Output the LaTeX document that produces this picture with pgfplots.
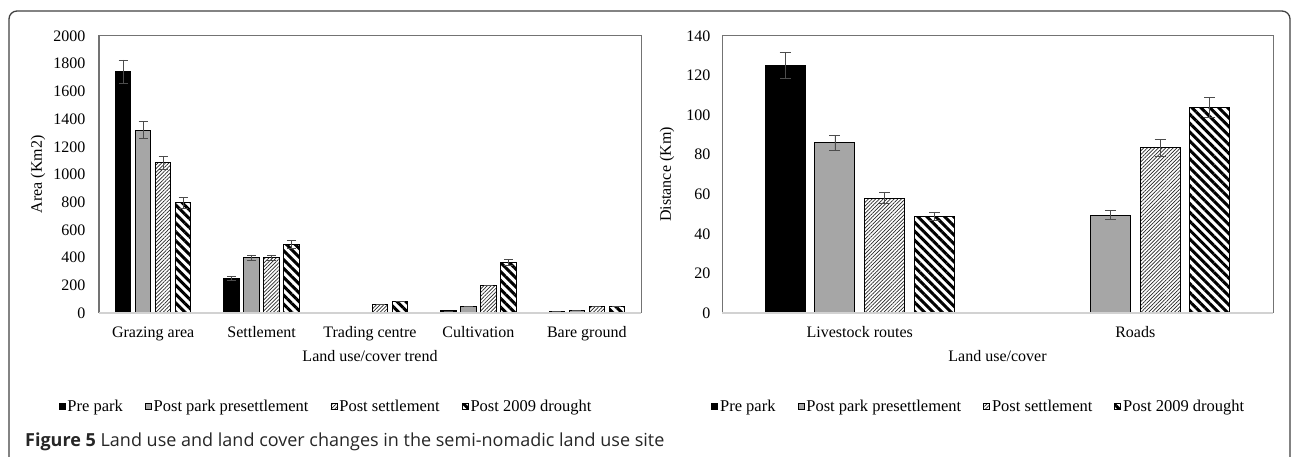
\documentclass[border=0pt]{standalone}
\usepackage{fontspec}
\setmainfont{Liberation Serif}
\newfontfamily\capfont{Open Sans}
\usepackage{pgfplots}
\pgfplotsset{compat=1.18}
\usetikzlibrary{patterns.meta}

\definecolor{pgray}{gray}{0.65}
\definecolor{axgray}{gray}{0.45}

\pgfplotsset{
  legsq/.style={legend image code/.code={\draw[##1,/tikz/.cd,line width=0.8pt,yshift=-3pt] (0pt,0pt) rectangle (6pt,6pt);}},
  pre/.style={fill=black, draw=black, line width=1pt, legsq},
  pp/.style={fill=pgray, draw=black, line width=1pt, legsq},
  ps/.style={draw=black, line width=1pt, pattern={Lines[angle=45,distance=2.6pt,line width=0.7pt]}, pattern color=black!85, legsq},
  pd/.style={draw=black, line width=1pt, pattern={Lines[angle=-45,distance=6.3pt,line width=3pt]}, pattern color=black, legsq},
  eb/.style={error bars/.cd, y dir=both, y explicit,
     error bar style={black!70, line width=0.8pt},
     error mark options={rotate=90, mark size=#1, black!70, line width=0.8pt}},
  mybars/.style={
    ybar, scale only axis, height=277pt, ymin=0,
    enlargelimits=false, clip=false,
    axis line style={axgray, line width=1pt},
    major tick length=0pt,
    /pgf/number format/assume math mode=true,
    /pgf/number format/1000 sep={},
    tick label style={font=\fontsize{16}{16}\selectfont},
    label style={font=\fontsize{16}{16}\selectfont},
    xticklabel style={anchor=base, yshift=-25pt},
    xlabel style={at={(axis description cs:0.5,0)}, anchor=base, yshift=-49pt},
    legend columns=4,
    legend style={draw=none, fill=none, anchor=center,
      font=\fontsize{16.5}{17}\selectfont,
      nodes={inner xsep=2pt},
      /tikz/every even column/.append style={column sep=20pt},
      /tikz/every odd column/.append style={column sep=0pt}},
  }
}

\begin{document}
\begin{tikzpicture}
\useasboundingbox (0,0) rectangle (1295pt,457pt);
\draw[line width=1.3pt, black!75, rounded corners=8pt] (9pt,-3pt) -- (9pt,446pt) -- (1290pt,446pt) -- (1290pt,-3pt);

% Left chart
\begin{axis}[mybars,
  at={(99pt,144pt)}, anchor=south west,
  width=542pt, ymax=2000, ytick={0,200,...,2000},
  xmin=-0.5, xmax=4.5,
  xtick={0,1,2,3,4},
  xticklabels={Grazing area, Settlement, Trading centre, Cultivation, Bare ground},
  bar width=15.5pt, ybar=4.5pt,
  yticklabel style={xshift=-10pt},
  ylabel={Area (Km2)},
  ylabel style={at={(axis description cs:-0.1125,0.5)}, anchor=center, rotate=0},
  xlabel={Land use/cover trend},
  legend style={at={(0.419,-0.336)}},
]
\addplot[pre, eb=4.5pt] coordinates {(0,1742) +- (0,85) (1,250) +- (0,17) (3,15) +- (0,0) (4,10) +- (0,0)};
\addplot[pp, eb=4.5pt] coordinates {(0,1321) +- (0,60) (1,400) +- (0,19) (3,45) +- (0,0) (4,20) +- (0,0)};
\addplot[ps, eb=4.5pt] coordinates {(0,1085) +- (0,48) (1,400) +- (0,19) (2,62) +- (0,0) (3,200) +- (0,0) (4,50) +- (0,0)};
\addplot[pd, eb=4.5pt] coordinates {(0,796) +- (0,40) (1,498) +- (0,29) (2,85) +- (0,0) (3,365) +- (0,20) (4,50) +- (0,0)};
\legend{Pre park, Post park presettlement, Post settlement, Post 2009 drought}
\draw[gray!35, line width=1.2pt] (rel axis cs:0,0) -- (rel axis cs:1,0);
\end{axis}

% Right chart
\begin{axis}[mybars,
  at={(722pt,144pt)}, anchor=south west,
  width=551pt, ymax=140, ytick={0,20,...,140},
  xmin=-0.5, xmax=1.5,
  xtick={0,1},
  xticklabels={Livestock routes, Roads},
  bar width=40pt, ybar=9.7pt,
  yticklabel style={xshift=-8pt},
  ylabel={Distance (Km)},
  ylabel style={at={(axis description cs:-0.0998,0.5)}, anchor=center, rotate=0},
  xlabel={Land use/cover},
  legend style={at={(0.466,-0.336)}},
]
\addplot[pre, eb=5.5pt] coordinates {(0,125) +- (0,6.5)};
\addplot[pp, eb=5.5pt] coordinates {(0,86) +- (0,4) (1,49.5) +- (0,2.2)};
\addplot[ps, eb=5.5pt] coordinates {(0,58) +- (0,2.7) (1,83.5) +- (0,4.3)};
\addplot[pd, eb=5.5pt] coordinates {(0,49) +- (0,2) (1,104) +- (0,5)};
\legend{Pre park, Post park presettlement, Post settlement, Post 2009 drought}
\draw[gray!35, line width=1.2pt] (rel axis cs:0,0) -- (rel axis cs:1,0);
\end{axis}

\node[anchor=base west, font=\capfont\fontsize{18}{18}\selectfont, text=black!85, inner sep=0pt] at (25pt,10.5pt)
  {\textbf{Figure 5} Land use and land cover changes in the semi-nomadic land use site};
\end{tikzpicture}
\end{document}
